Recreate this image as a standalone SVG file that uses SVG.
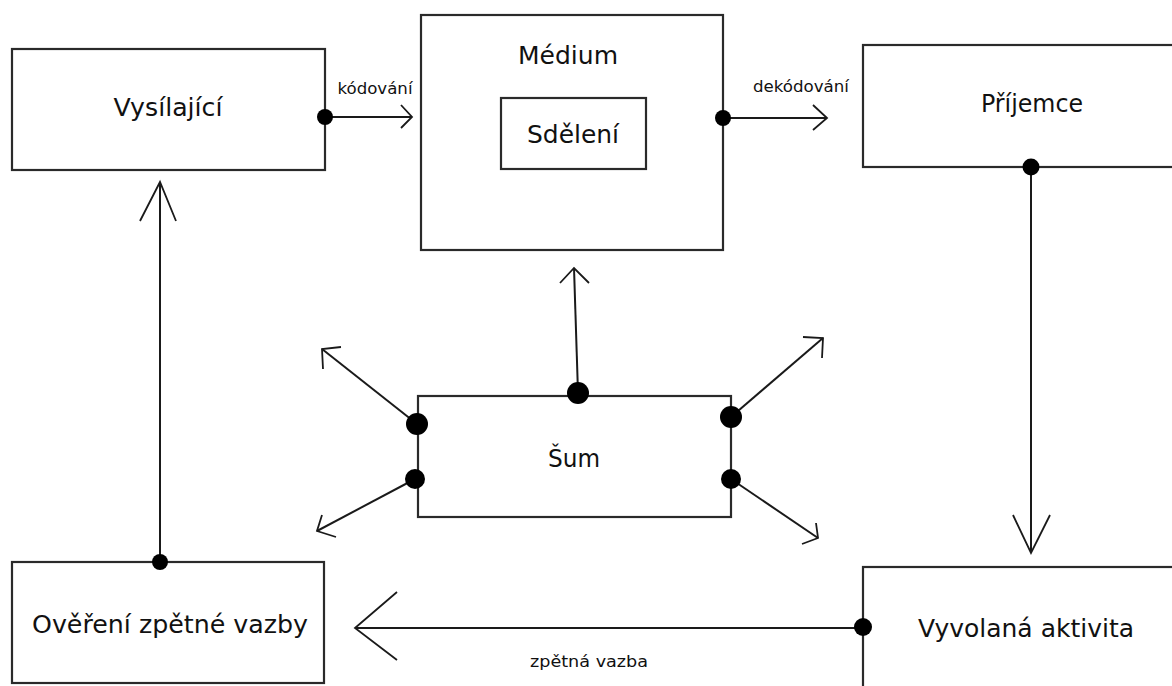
<svg xmlns="http://www.w3.org/2000/svg" width="1172" height="686" viewBox="0 0 1172 686">
<style>
.box{fill:#fff;stroke:#2a2a2a;stroke-width:2.2}
.ln{fill:none;stroke:#1a1a1a;stroke-width:2}
.hd{fill:none;stroke:#1a1a1a;stroke-width:1.8;stroke-linejoin:miter}
.dot{fill:#000}
.lbl{font-family:"DejaVu Sans","Liberation Sans",sans-serif;font-size:24px;fill:#111;text-anchor:middle}
.sm{font-family:"DejaVu Sans","Liberation Sans",sans-serif;font-size:16px;fill:#111;text-anchor:middle}
</style>
<rect width="1172" height="686" fill="#fff"/>
<g id="vysilajici">
<rect class="box" x="12" y="49" width="313" height="121"/>
<text class="lbl" x="168" y="116" textLength="109" lengthAdjust="spacingAndGlyphs">Vysílající</text>
</g>
<g id="medium">
<rect class="box" x="421" y="15" width="302" height="235"/>
<text class="lbl" x="568" y="64" textLength="100" lengthAdjust="spacingAndGlyphs">Médium</text>
</g>
<g id="sdeleni">
<rect class="box" x="501" y="98" width="145" height="71"/>
<text class="lbl" x="573" y="143" textLength="92" lengthAdjust="spacingAndGlyphs">Sdělení</text>
</g>
<g id="prijemce">
<rect class="box" x="863" y="45" width="320" height="122"/>
<text class="lbl" x="1032" y="112" textLength="102" lengthAdjust="spacingAndGlyphs">Příjemce</text>
</g>
<g id="sum">
<rect class="box" x="418" y="396" width="313" height="121"/>
<text class="lbl" x="574" y="467" textLength="52" lengthAdjust="spacingAndGlyphs">Šum</text>
</g>
<g id="overeni">
<rect class="box" x="12" y="562" width="312" height="121"/>
<text class="lbl" x="170" y="633" textLength="276" lengthAdjust="spacingAndGlyphs">Ověření zpětné vazby</text>
</g>
<g id="vyvolana">
<rect class="box" x="863" y="567" width="320" height="140"/>
<text class="lbl" x="1026" y="637" textLength="216" lengthAdjust="spacingAndGlyphs">Vyvolaná aktivita</text>
</g>
<g id="connectors">
<line class="ln" x1="325" y1="117" x2="412" y2="117"/>
<polyline class="hd" points="401,105 412,117 401,128"/>
<line class="ln" x1="723" y1="118" x2="827" y2="118"/>
<polyline class="hd" points="813,105 827,118 813,130"/>
<line class="ln" x1="1031" y1="167" x2="1031" y2="553"/>
<polyline class="hd" points="1013,515 1031,553 1050,515"/>
<line class="ln" x1="863" y1="628" x2="355" y2="628"/>
<polyline class="hd" points="397,592 355,628 397,660"/>
<line class="ln" x1="160" y1="562" x2="160" y2="182"/>
<polyline class="hd" points="140,221 160,182 176,221"/>
<line class="ln" x1="578" y1="393" x2="574" y2="268"/>
<polyline class="hd" points="560,283 574,268 589,283"/>
<line class="ln" x1="417" y1="424" x2="322" y2="349"/>
<polyline class="hd" points="341,347 322,349 323,369"/>
<line class="ln" x1="415" y1="479" x2="317" y2="531"/>
<polyline class="hd" points="322,515 317,531 336,537"/>
<line class="ln" x1="731" y1="417" x2="823" y2="338"/>
<polyline class="hd" points="803,337 823,338 822,358"/>
<line class="ln" x1="731" y1="479" x2="818" y2="538"/>
<polyline class="hd" points="816,523 818,538 802,544"/>
<circle class="dot" cx="325" cy="117" r="8"/>
<circle class="dot" cx="723" cy="118" r="8"/>
<circle class="dot" cx="1031" cy="167" r="8.5"/>
<circle class="dot" cx="160" cy="562" r="8"/>
<circle class="dot" cx="863" cy="627" r="9"/>
<circle class="dot" cx="578" cy="393" r="11"/>
<circle class="dot" cx="417" cy="424" r="11"/>
<circle class="dot" cx="415" cy="479" r="10"/>
<circle class="dot" cx="731" cy="417" r="11"/>
<circle class="dot" cx="731" cy="479" r="10"/>
<text class="sm" x="375" y="94" textLength="75" lengthAdjust="spacingAndGlyphs">kódování</text>
<text class="sm" x="801" y="92" textLength="96" lengthAdjust="spacingAndGlyphs">dekódování</text>
<text class="sm" x="589" y="667" textLength="118" lengthAdjust="spacingAndGlyphs">zpětná vazba</text>
</g>
</svg>
